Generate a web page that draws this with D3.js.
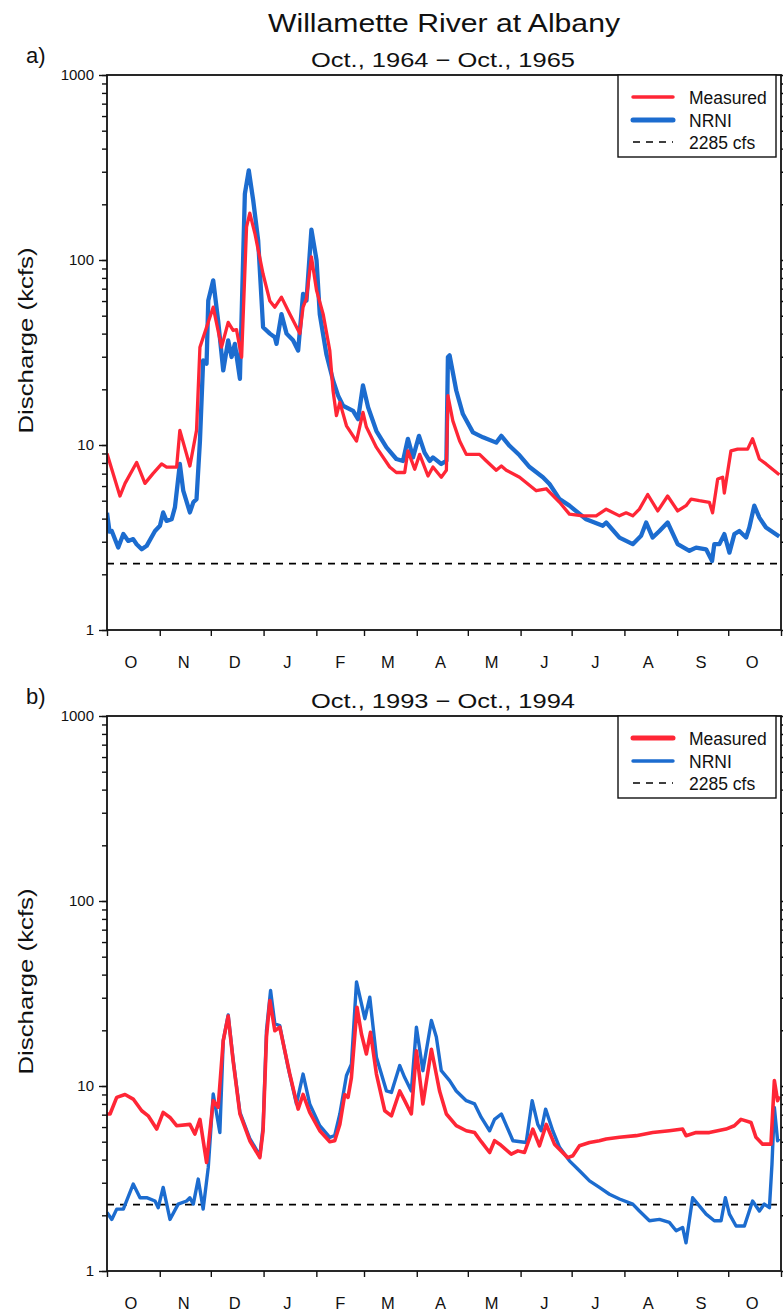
<!DOCTYPE html>
<html><head><meta charset="utf-8">
<script src="https://cdn.jsdelivr.net/npm/d3@7"></script>
<style>
body{margin:0;background:#fff}
svg{display:block}
text{font-family:"Liberation Sans",Arial,Helvetica,sans-serif;fill:#111}
</style>
</head><body>
<svg id="chart" width="783" height="1312"></svg>
<script>
// ---------- data (day = days since Oct 1 of the water year, value = kcfs) ----------
const chartTitle = "Willamette River at Albany";
const panelLetters = ["a)", "b)"];
const panelTitles = ["Oct., 1964 \u2212 Oct., 1965", "Oct., 1993 \u2212 Oct., 1994"];
const startYears = [1964, 1993];
const monthLabels = ["O","N","D","J","F","M","A","M","J","J","A","S","O"];
const yMajorTicks = [1, 10, 100, 1000];
const seriesNames = ["Measured", "NRNI"];
const thresholdLabel = "2285 cfs";
const thresholdKcfs = 2.285;

const measuredA = [[0,9.0],[7.6,5.3],[10.6,6.2],[17.4,8.05],[22.3,6.2],[27,7.0],[32.1,7.9],[35,7.6],[40.9,7.6],[42.8,12],[48.7,7.7],[52.6,12],[54.6,33.8],[62.4,55.6],[67.3,33.8],[71.2,46],[74.1,41.6],[76.1,42],[79.1,29.8],[82,151],[83.9,179],[86.9,139],[91.7,84],[95.7,60],[98.6,55.6],[102.5,63],[107.4,51],[113.3,40],[115.2,55.6],[117.2,62],[120.1,104],[123.1,68.6],[127,51],[130.9,32.4],[132.8,19.7],[134.8,14.4],[136.8,17],[140.7,12.7],[146.6,10.5],[150.4,15],[152.4,12.5],[158.3,9.7],[166.1,7.6],[170,7.1],[174.9,7.1],[176.8,9.3],[180.8,7.4],[183.7,8.9],[188.6,6.8],[191.5,7.6],[196.4,6.7],[199.4,7.3],[200.3,18.5],[203.2,13.5],[207.2,10.5],[211.1,8.9],[218.9,8.9],[222.9,8.2],[228.7,7.3],[231.7,7.7],[234.6,7.3],[242.4,6.7],[252.2,5.66],[258.1,5.8],[265.9,4.9],[271.7,4.23],[279.6,4.14],[287.4,4.14],[293.3,4.5],[301.1,4.14],[305,4.3],[308.9,4.14],[312.8,4.5],[317.7,5.4],[323.6,4.4],[329.4,5.3],[335.3,4.4],[340.2,4.7],[343.2,5.1],[348,5.0],[353.9,4.9],[355.8,4.3],[358.8,6.55],[361.7,6.7],[362.7,5.5],[366.6,9.3],[370.5,9.5],[376.4,9.5],[379.3,10.8],[383.3,8.4],[387.2,7.9],[395,6.9]];

const nrniA = [[0,4.3],[1.5,3.4],[2.8,3.43],[6.6,2.79],[9.6,3.3],[12.5,3.03],[15.4,3.1],[17.4,2.91],[20.4,2.73],[23.3,2.85],[28.2,3.43],[31.1,3.66],[33,4.32],[35,3.89],[38,3.97],[39.9,4.6],[42.8,7.9],[44.8,5.66],[48.7,4.32],[50.7,4.9],[52.6,5.1],[54.6,10.5],[56.5,28.7],[58.5,27.5],[59.5,60.4],[62.4,77.6],[65.3,47],[68.3,25.3],[71.2,36.8],[73.2,29.9],[75.1,35.2],[78.1,22.8],[81,228],[83.3,305],[85.9,210],[88.8,128],[91.7,43.3],[95.7,40],[98.6,38.2],[99.6,35.2],[102.5,51],[105.5,40],[109.3,36.8],[112.3,32.4],[115.2,65.5],[117.2,60.4],[120.1,146],[123.1,100],[125,51],[128.9,31],[132.8,22.4],[135.8,18.5],[138.7,16.3],[144.6,15.3],[147.5,13.8],[150.4,21],[153.4,16],[158.3,11.9],[164.2,9.7],[170,8.4],[173.9,8.2],[176.8,10.8],[179.8,8.57],[183.3,11.2],[186.6,9.1],[189.6,8.2],[191.5,8.57],[196.4,7.9],[199.4,8.2],[200.3,29.9],[201.3,30.5],[205.2,19.7],[209.1,14.7],[215,11.7],[220.9,11.0],[228.7,10.3],[231.7,11.2],[236.5,9.9],[242.4,8.8],[248.3,7.6],[256.1,6.7],[260,6.15],[265.9,5.1],[271.7,4.7],[281.5,3.97],[291.3,3.66],[293.3,3.81],[301.1,3.16],[308.9,2.91],[313.8,3.23],[316.8,3.81],[320.6,3.16],[324.6,3.43],[329.4,3.81],[335.3,2.91],[342.2,2.68],[346.1,2.79],[352,2.73],[355.5,2.36],[356.8,2.91],[359.8,2.91],[362.7,3.3],[365.7,2.62],[368.6,3.3],[371.5,3.43],[375.5,3.16],[377.4,3.58],[380.3,4.7],[383.3,4.05],[387.2,3.58],[395,3.2]];

const measuredB = [[0,7.06],[1.8,7.06],[5.7,8.68],[10.6,9.0],[15.4,8.5],[20.4,7.35],[24.2,6.9],[29.2,5.85],[33,7.2],[37,6.76],[40.9,6.1],[48.7,6.2],[51.6,5.5],[54.6,6.6],[58.5,3.86],[62.4,8.33],[65.3,7.66],[68.3,17.6],[71.2,23.9],[74.1,13.7],[78.1,7.06],[83.9,5.06],[89.8,4.1],[91.7,5.73],[93.7,18.4],[95.7,29.0],[98.6,19.9],[101.5,20.8],[107.4,11.6],[112.3,7.5],[115.2,9.0],[119.1,7.2],[125,5.73],[130.9,5.0],[133.8,5.06],[136.8,6.2],[139.7,9.0],[141.6,8.68],[143.6,11.1],[146.9,26.6],[149.5,19.1],[152.4,14.9],[154.8,19.5],[158.3,11.6],[163.2,7.35],[167.1,6.9],[172,9.4],[174.9,8.33],[178.8,7.06],[181.8,15.5],[185.6,8.0],[190.6,15.8],[195.4,9.4],[199.4,7.06],[205.2,6.1],[211.1,5.73],[216,5.6],[219.9,5.0],[224.8,4.37],[227.7,5.06],[230.7,4.85],[237.5,4.28],[241.4,4.46],[245.3,4.37],[250.2,5.85],[254.1,4.75],[258.1,6.2],[262.9,4.85],[270.7,4.1],[273.7,4.2],[277.6,4.75],[283.5,4.95],[289.3,5.06],[293.3,5.17],[301.1,5.28],[310.9,5.39],[320.6,5.6],[330.4,5.73],[338.2,5.85],[340.2,5.39],[346.1,5.6],[353.9,5.6],[363.7,5.85],[368.6,6.1],[372.5,6.6],[378.4,6.35],[381.3,5.28],[385.2,4.85],[390.1,4.85],[392.1,10.7],[394,8.33],[395,8.8]];

const nrniB = [[0,2.07],[2.8,1.9],[5.7,2.16],[9.6,2.16],[15.4,2.95],[19.4,2.49],[23.3,2.49],[28.2,2.39],[30.1,2.2],[33,2.83],[37,1.9],[41.8,2.3],[46.8,2.39],[48.7,2.49],[50.7,2.3],[53.6,3.14],[56.5,2.16],[59.5,3.63],[62.4,9.05],[66.3,5.6],[68.3,17.6],[71.2,24.2],[74.1,13.9],[78.1,7.2],[83.9,5.2],[89.8,4.2],[91.7,6.0],[93.7,20],[96.1,32.8],[98.6,21.7],[101.5,21.2],[106.4,12.6],[111.3,8.0],[115.2,11.6],[119.1,8.0],[125,6.1],[130.9,5.28],[133.8,5.4],[136.8,7.06],[140.7,11.4],[143.6,13.1],[146.6,36.5],[151.5,23.1],[154.4,30.2],[158.3,14.3],[164.2,9.4],[167.1,9.23],[172,12.9],[174.9,11.1],[178.8,9.4],[181.8,20.8],[185.6,12.1],[190.6,22.6],[193.5,18.4],[196.4,12.1],[201.3,10.7],[205.2,9.4],[211.1,8.33],[216,8.0],[219.9,6.76],[224.8,5.73],[227.7,6.6],[231.7,7.06],[238.5,5.06],[246.3,4.95],[249.8,8.33],[253.1,6.2],[255.1,5.73],[257.7,7.5],[261.9,5.73],[265.9,4.66],[271.7,3.94],[277.6,3.48],[283.5,3.07],[289.3,2.83],[295.2,2.6],[301.1,2.45],[308.9,2.3],[312.8,2.11],[318.7,1.87],[324.6,1.9],[330.4,1.83],[334.4,1.65],[338.2,1.72],[340.2,1.42],[344.1,2.49],[348,2.25],[352,2.03],[356.8,1.87],[360.8,1.87],[363.3,2.49],[365.7,2.03],[369.6,1.75],[374.5,1.75],[379.3,2.39],[383.3,2.11],[386.2,2.3],[389.2,2.2],[390.7,3.78],[392.1,7.66],[394,5.06],[395,5.2]];

// ---------- layout / style ----------
const RED = "#ff2636", BLUE = "#1c6ccf";
const panels = [
  {top: 75, measured: measuredA, nrni: nrniA, redW: 3.3, blueW: 4.3, legRedW: 3.5, legBlueW: 5},
  {top: 716, measured: measuredB, nrni: nrniB, redW: 3.6, blueW: 3.4, legRedW: 5, legBlueW: 3.4}
];
const L = 107, R = 781, H = 555;

const svg = d3.select("#chart");

svg.append("text").attr("x", 444).attr("y", 32).attr("text-anchor", "middle")
  .attr("font-size", 26).attr("textLength", 352).attr("lengthAdjust", "spacingAndGlyphs")
  .text(chartTitle);

const minorVals = [];
for (let e = 0; e < 3; e++) for (let m = 1; m <= 9; m++) minorVals.push(m * Math.pow(10, e));
minorVals.push(1000);

panels.forEach((p, i) => {
  const top = p.top, bottom = p.top + H;
  const start = new Date(startYears[i], 9, 1);
  const end = new Date(startYears[i] + 1, 10, 1);
  const x = d3.scaleTime().domain([start, end]).range([L, R]);
  const y = d3.scaleLog().domain([1, 1000]).range([bottom, top]);
  const g = svg.append("g");
  const dayDate = d => new Date(start.getTime() + d * 86400000);

  const clipId = "clip" + i;
  svg.append("clipPath").attr("id", clipId).append("rect")
    .attr("x", L).attr("y", top).attr("width", R - L).attr("height", H);

  // subtitle & panel letter
  g.append("text").attr("x", 443).attr("y", top - 8).attr("text-anchor", "middle")
    .attr("font-size", 20.5).attr("textLength", 264).attr("lengthAdjust", "spacingAndGlyphs")
    .text(panelTitles[i]);
  g.append("text").attr("x", 26).attr("y", top - 12).attr("font-size", 22).text(panelLetters[i]);

  // y label
  g.append("text").attr("transform", `translate(33,${top + H / 2 - 12}) rotate(-90)`)
    .attr("text-anchor", "middle").attr("font-size", 21)
    .attr("textLength", 186).attr("lengthAdjust", "spacingAndGlyphs")
    .text("Discharge (kcfs)");

  // threshold line
  g.append("line").attr("x1", L).attr("x2", R)
    .attr("y1", y(thresholdKcfs)).attr("y2", y(thresholdKcfs))
    .attr("stroke", "#000").attr("stroke-width", 1.6).attr("stroke-dasharray", "7,6");

  // series lines
  const line = d3.line().x(d => x(dayDate(d[0]))).y(d => y(d[1]));
  g.append("path").datum(p.nrni).attr("clip-path", `url(#${clipId})`)
    .attr("d", line).attr("fill", "none").attr("stroke", BLUE)
    .attr("stroke-width", p.blueW).attr("stroke-linejoin", "round");
  g.append("path").datum(p.measured).attr("clip-path", `url(#${clipId})`)
    .attr("d", line).attr("fill", "none").attr("stroke", RED)
    .attr("stroke-width", p.redW).attr("stroke-linejoin", "round");

  // left axis: minor ticks
  const minorAx = g.append("g").attr("transform", `translate(${L},0)`)
    .call(d3.axisLeft(y).tickValues(minorVals).tickSize(5).tickFormat(""));
  minorAx.select(".domain").remove();
  const majorAx = g.append("g").attr("transform", `translate(${L},0)`)
    .call(d3.axisLeft(y).tickValues(yMajorTicks).tickSize(8).tickPadding(5).tickFormat(d3.format("d")));
  majorAx.select(".domain").remove();
  majorAx.selectAll("text").attr("font-size", 15).attr("fill", "#111")
    .attr("font-family", "Liberation Sans, Arial, sans-serif");
  g.selectAll(".tick line").attr("stroke", "#111").attr("stroke-width", 1.4);

  // right axis ticks
  const rAx = g.append("g").attr("transform", `translate(${R},0)`)
    .call(d3.axisRight(y).tickValues(minorVals).tickSize(6).tickFormat(""));
  rAx.select(".domain").remove();
  rAx.selectAll("line").attr("stroke", "#111").attr("stroke-width", 1.4);

  // bottom axis ticks at month starts
  const bAx = g.append("g").attr("transform", `translate(0,${bottom})`)
    .call(d3.axisBottom(x).ticks(d3.timeMonth.every(1)).tickSize(6).tickFormat(""));
  bAx.select(".domain").remove();
  bAx.selectAll("line").attr("stroke", "#111").attr("stroke-width", 1.4);

  // month labels
  const months = d3.timeMonth.range(start, d3.timeMonth.offset(start, 13));
  g.selectAll(".mlab").data(months).enter().append("text")
    .attr("x", (d) => x(d3.timeDay.offset(d, 14)))
    .attr("y", bottom + 38).attr("text-anchor", "middle").attr("font-size", 16.5)
    .text((d, k) => monthLabels[k]);

  // frame
  g.append("rect").attr("x", L).attr("y", top).attr("width", R - L).attr("height", H)
    .attr("fill", "none").attr("stroke", "#111").attr("stroke-width", 1.8);

  // legend
  const lg = g.append("g");
  lg.append("rect").attr("x", 618).attr("y", top).attr("width", 158).attr("height", 82)
    .attr("fill", "#fff").attr("stroke", "#111").attr("stroke-width", 1.4);
  const items = [
    {name: seriesNames[0], color: RED, w: p.legRedW, dash: null, dy: 22},
    {name: seriesNames[1], color: BLUE, w: p.legBlueW, dash: null, dy: 45},
    {name: thresholdLabel, color: "#000", w: 1.6, dash: "7,6", dy: 67}
  ];
  items.forEach(it => {
    lg.append("line").attr("x1", 633).attr("x2", 673)
      .attr("y1", top + it.dy).attr("y2", top + it.dy)
      .attr("stroke", it.color).attr("stroke-width", it.w)
      .attr("stroke-linecap", it.dash ? "butt" : "round")
      .attr("stroke-dasharray", it.dash);
    lg.append("text").attr("x", 689).attr("y", top + it.dy + 6.5)
      .attr("font-size", 17.5).text(it.name);
  });
});
</script>
</body></html>
